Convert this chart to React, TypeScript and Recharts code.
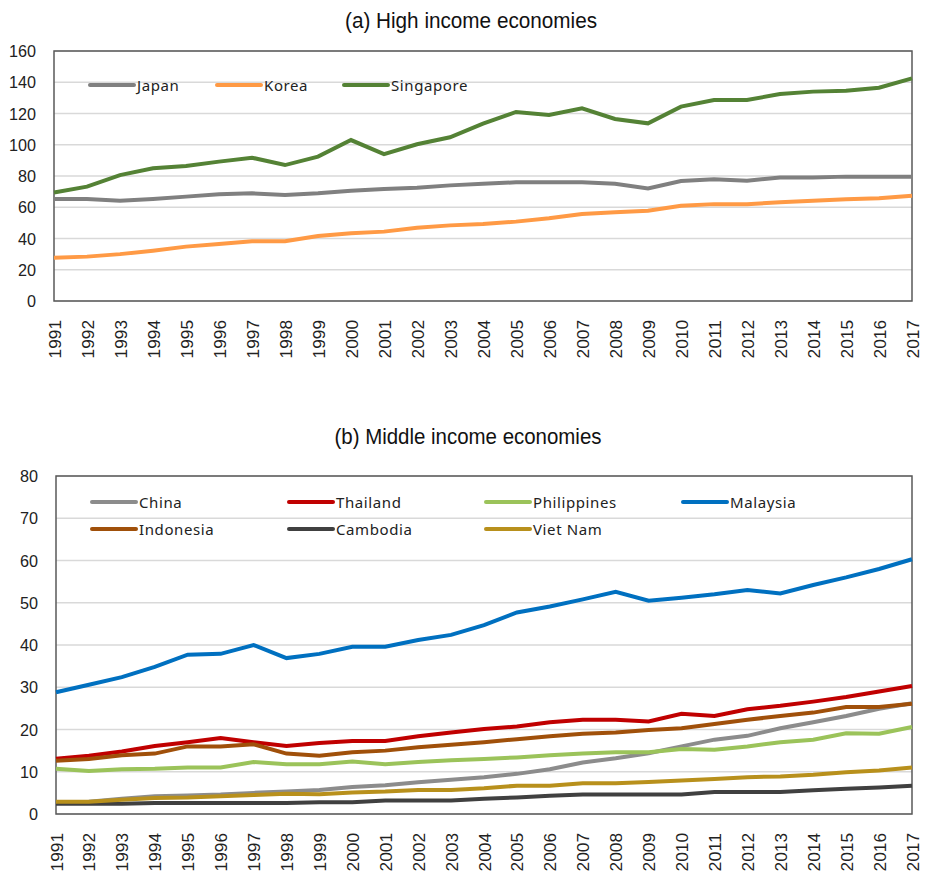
import React from "react";
import { LineChart, Line, XAxis, YAxis, CartesianGrid, ReferenceArea, Legend } from "recharts";

const years = ["1991","1992","1993","1994","1995","1996","1997","1998","1999","2000","2001","2002","2003","2004","2005","2006","2007","2008","2009","2010","2011","2012","2013","2014","2015","2016","2017"];

const japan = [65.3,65.3,64.2,65.3,66.8,68.3,68.9,67.8,68.9,70.6,71.7,72.5,74,75,76,76,76,75,72,76.8,77.9,77,79,79,79.6,79.6,79.6];
const korea = [27.7,28.4,30,32.2,34.8,36.5,38.2,38.2,41.6,43.3,44.4,46.9,48.4,49.3,50.8,52.9,55.7,56.8,57.8,61,62,62,63.2,64.2,65.1,65.7,67.4];
const singapore = [69.5,73.2,80.6,84.9,86.4,89.2,91.7,87,92.4,103,94,100.3,104.8,113.5,121,119,123.3,116.5,113.7,124.4,128.6,128.6,132.5,134,134.6,136.5,142.5];

const china = [2.7,2.9,3.6,4.2,4.4,4.6,5,5.3,5.7,6.4,6.8,7.5,8.1,8.7,9.5,10.6,12.2,13.2,14.4,16,17.6,18.5,20.3,21.7,23.2,24.9,26.2];
const thailand = [13.1,13.8,14.8,16.1,17,18,17,16.1,16.8,17.3,17.3,18.4,19.3,20.1,20.7,21.7,22.3,22.3,21.9,23.7,23.2,24.8,25.6,26.6,27.7,29,30.3];
const philippines = [10.7,10.2,10.6,10.7,11,11,12.3,11.8,11.8,12.4,11.8,12.3,12.7,13,13.4,13.9,14.3,14.6,14.6,15.4,15.2,16,17,17.6,19.1,19,20.6];
const malaysia = [28.8,30.6,32.4,34.8,37.7,37.9,40,36.9,37.9,39.6,39.6,41.2,42.4,44.7,47.7,49.1,50.8,52.6,50.5,51.2,52,53,52.2,54.2,56,58,60.3];
const indonesia = [12.6,13,13.9,14.3,16,16,16.5,14.3,13.8,14.6,15,15.8,16.4,17,17.7,18.4,19,19.3,19.9,20.3,21.3,22.3,23.2,24,25.3,25.3,26.1];
const cambodia = [2.4,2.4,2.4,2.6,2.6,2.6,2.6,2.6,2.8,2.8,3.2,3.2,3.2,3.6,3.9,4.3,4.6,4.6,4.6,4.6,5.2,5.2,5.2,5.6,6,6.3,6.7];
const vietnam = [2.9,2.9,3.4,3.8,3.9,4.2,4.5,4.8,4.7,5.1,5.3,5.7,5.7,6.1,6.7,6.7,7.3,7.3,7.6,7.9,8.3,8.7,8.9,9.3,9.9,10.3,11];

const topTicks = [0,20,40,60,80,100,120,140,160];
const bottomTicks = [0,10,20,30,40,50,60,70,80];

const topData = years.map((y, i) => ({ year: y, Japan: japan[i], Korea: korea[i], Singapore: singapore[i] }));
const bottomData = years.map((y, i) => ({
  year: y, China: china[i], Thailand: thailand[i], Philippines: philippines[i], Malaysia: malaysia[i],
  Indonesia: indonesia[i], Cambodia: cambodia[i], "Viet Nam": vietnam[i],
}));

const topSeries = [
  { key: "Japan", color: "#808080" },
  { key: "Korea", color: "#FF9A45" },
  { key: "Singapore", color: "#548235" },
];
const bottomSeries = [
  { key: "China", color: "#8C8C8C" },
  { key: "Thailand", color: "#C00000" },
  { key: "Philippines", color: "#9BC35A" },
  { key: "Malaysia", color: "#0070C0" },
  { key: "Indonesia", color: "#A0500A" },
  { key: "Cambodia", color: "#404040" },
  { key: "Viet Nam", color: "#B8901C" },
];

const tickFont = "'Liberation Sans', Arial, sans-serif";
const legendFont = "'Noto Sans', 'DejaVu Sans', sans-serif";

const XTick = (props: any) => {
  const { x, y, payload } = props;
  const bx = x + 6.5;
  const by = y + 11;
  const s = String(payload.value);
  return (
    <text x={bx} y={by} transform={`rotate(-90 ${bx} ${by})`} textAnchor="end" fontFamily={tickFont} fontSize={16}
      fill="#222" textLength={s.length * 9.6} lengthAdjust="spacingAndGlyphs">
      {s}
    </text>
  );
};

const YTick = (props: any) => {
  const { x, y, payload } = props;
  const s = String(payload.value);
  return (
    <text x={x - 10} y={y + 6} textAnchor="end" fontFamily={tickFont} fontSize={16} fill="#222"
      textLength={s.length * 9} lengthAdjust="spacingAndGlyphs">
      {s}
    </text>
  );
};

const makeLegend = (order: string[], cols: number, colWidth: number, rowHeight: number) => (props: any) => {
  const payload = [...(props.payload || [])].sort((a: any, b: any) => order.indexOf(a.value) - order.indexOf(b.value));
  return (
    <div style={{ position: "relative", height: 0, width: 0 }}>
      {payload.map((p: any, i: number) => {
        const c = i % cols;
        const r = Math.floor(i / cols);
        return (
          <div key={p.value} style={{ position: "absolute", left: c * colWidth, top: r * rowHeight - 11, height: 22, display: "flex", alignItems: "center", whiteSpace: "nowrap" }}>
            <svg width={48} height={6} style={{ display: "block" }}>
              <line x1={2} y1={3} x2={46} y2={3} stroke={p.color} strokeWidth={4} strokeLinecap="round" />
            </svg>
            <span style={{ fontFamily: legendFont, fontSize: 15, lineHeight: "22px", color: "#222", letterSpacing: "0.6px", marginLeft: 1 }}>{p.value}</span>
          </div>
        );
      })}
    </div>
  );
};

const Title = ({ text, cx, baseline, length }: { text: string; cx: number; baseline: number; length: number }) => (
  <svg width={928} height={40} style={{ position: "absolute", left: 0, top: baseline - 30 }}>
    <text x={cx} y={30} textAnchor="middle" fontFamily={tickFont} fontSize={22} fill="#111"
      textLength={length} lengthAdjust="spacingAndGlyphs">
      {text}
    </text>
  </svg>
);

export default function App() {
  return (
    <div style={{ position: "absolute", left: 0, top: 0, width: 928, height: 875, background: "#fff" }}>
      <Title text="(a) High income economies" cx={471} baseline={28} length={252} />
      <div style={{ position: "absolute", left: 0, top: 0 }}>
        <LineChart width={928} height={370} data={topData} margin={{ top: 51, right: 16, left: 0, bottom: 19 }}>
          <CartesianGrid vertical={false} stroke="#D9D9D9" strokeWidth={1.5} />
          <ReferenceArea x1="1991" x2="2017" y1={0} y2={160} fill="none" stroke="#595959" strokeWidth={1.5} ifOverflow="visible" />
          <XAxis dataKey="year" interval={0} tick={<XTick />} tickLine={false} axisLine={false} height={50} padding={{ left: 0, right: 0 }} />
          <YAxis domain={[0, 160]} ticks={topTicks} tick={<YTick />} tickLine={false} axisLine={false} width={54} />
          <Legend
            layout="horizontal"
            verticalAlign="top"
            align="left"
            content={makeLegend(topSeries.map((s) => s.key), 3, 127, 27)}
            wrapperStyle={{ position: "absolute", left: 88, top: 85, width: 0, height: 0 }}
          />
          {topSeries.map((s) => (
            <Line key={s.key} type="linear" dataKey={s.key} stroke={s.color} strokeWidth={4} dot={false} isAnimationActive={false} />
          ))}
        </LineChart>
      </div>
      <Title text="(b) Middle income economies" cx={468} baseline={444} length={267} />
      <div style={{ position: "absolute", left: 0, top: 400 }}>
        <LineChart width={928} height={475} data={bottomData} margin={{ top: 76, right: 16, left: 0, bottom: 9 }}>
          <CartesianGrid vertical={false} stroke="#D9D9D9" strokeWidth={1.5} />
          <ReferenceArea x1="1991" x2="2017" y1={0} y2={80} fill="none" stroke="#595959" strokeWidth={1.5} ifOverflow="visible" />
          <XAxis dataKey="year" interval={0} tick={<XTick />} tickLine={false} axisLine={false} height={52} padding={{ left: 0, right: 0 }} />
          <YAxis domain={[0, 80]} ticks={bottomTicks} tick={<YTick />} tickLine={false} axisLine={false} width={56} />
          <Legend
            layout="horizontal"
            verticalAlign="top"
            align="left"
            content={makeLegend(bottomSeries.map((s) => s.key), 4, 197, 27)}
            wrapperStyle={{ position: "absolute", left: 90, top: 102, width: 0, height: 0 }}
          />
          {bottomSeries.map((s) => (
            <Line key={s.key} type="linear" dataKey={s.key} stroke={s.color} strokeWidth={4} dot={false} isAnimationActive={false} />
          ))}
        </LineChart>
      </div>
    </div>
  );
}
